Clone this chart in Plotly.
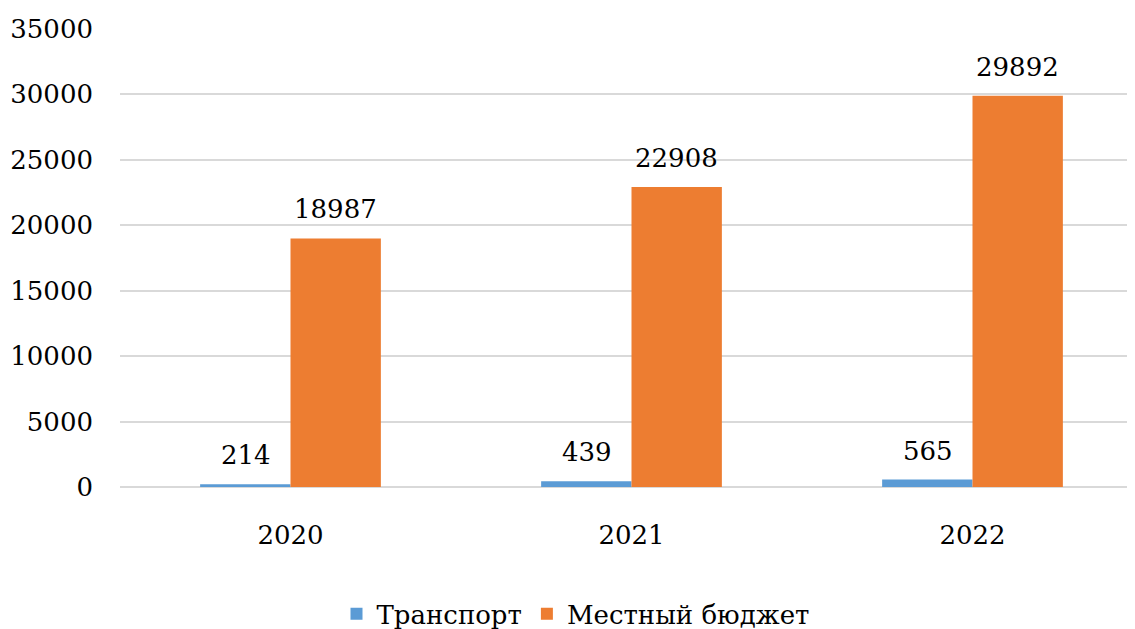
import plotly.graph_objects as go

years = ["2020", "2021", "2022"]
transport = [214, 439, 565]
local_budget = [18987, 22908, 29892]
series_names = ["Транспорт", "Местный бюджет"]
y_ticks = [0, 5000, 10000, 15000, 20000, 25000, 30000, 35000]

font = dict(family="DejaVu Serif", size=26, color="#000000")
colors = ["#5B9BD5", "#ED7D31"]

fig = go.Figure()
for name, vals, col, shift in [(series_names[0], transport, colors[0], -45),
                               (series_names[1], local_budget, colors[1], 45)]:
    fig.add_trace(go.Bar(x=years, y=vals, name=name, marker_color=col,
                         marker_line_width=0))
    for i, v in enumerate(vals):
        fig.add_annotation(x=i, y=v, text=str(v), showarrow=False, xshift=shift,
                           yanchor="bottom", yshift=12, font=font)

fig.update_layout(
    width=1135, height=629,
    margin=dict(l=112, r=0, t=20, b=150, autoexpand=False),
    paper_bgcolor="white", plot_bgcolor="white",
    font=font,
    barmode="group", bargap=0.47, bargroupgap=0,
    showlegend=True,
    legend=dict(orientation="h", x=0.5, xanchor="center", xref="container",
                y=0.037, yanchor="middle", yref="container",
                font=font, traceorder="normal"),
)
fig.update_yaxes(range=[0, 35060], tickvals=y_ticks, tickformat="d", showgrid=True,
                 gridcolor="#D9D9D9", gridwidth=1.5, zeroline=True,
                 zerolinecolor="#D9D9D9", zerolinewidth=1.5,
                 showline=False, ticklabelstandoff=26, tickfont=font, automargin=False)
fig.update_xaxes(type="category", range=[-0.5, 2.5], showline=False,
                 ticklabelstandoff=30, tickfont=font, automargin=False)

fig.write_html("out.html")
